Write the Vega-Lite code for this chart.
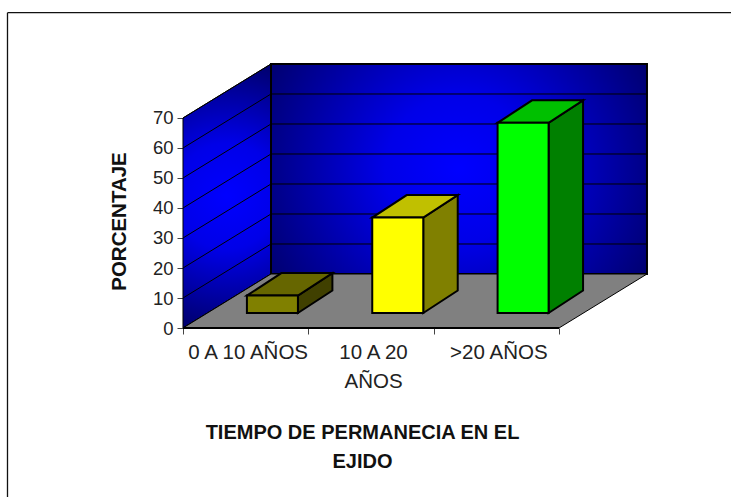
{
"$schema":"https://vega.github.io/schema/vega-lite/v6.json",
"width":731,"height":497,"autosize":{"type":"none"},"padding":0,"background":"white",
"config":{"view":{"stroke":null},"font":"Liberation Sans"},
"datasets":{
"bars":[{"cat":"0 A 10 AÑOS","i":0,"value":5.8,"label":"0 A 10 AÑOS"},{"cat":"10 A 20 AÑOS","i":1,"value":31.8,"label":"10 A 20\nAÑOS"},{"cat":">20 AÑOS","i":2,"value":63.4,"label":">20 AÑOS"}],
"ticks":[{"v":0},{"v":10},{"v":20},{"v":30},{"v":40},{"v":50},{"v":60},{"v":70}]
},
"layer":[
{"data":{"values":[{}]},"mark":{"type":"rule","color":"#111","strokeWidth":1.3},
 "encoding":{"x":{"datum":-1.4003,"type":"quantitative","scale":{"domain":[-1.4601,4.3724],"nice":false,"zero":false},
   "axis":{"orient":"bottom","offset":-169,"values":[0,1,2,3],"labels":false,"domain":false,"grid":false,"tickSize":6,"tickColor":"#444","tickWidth":1,
     "title":["TIEMPO DE PERMANECIA EN EL","EJIDO"],"titleFont":"Liberation Sans","titleFontWeight":"bold","titleFontSize":20,"titleColor":"#111","titleLineHeight":29,"titleX":362,"titleY":94,"titleAlign":"center"}},
  "y":{"datum":105.1,"type":"quantitative","scale":{"domain":[-56.33,109.33],"nice":false,"zero":false},
   "axis":{"orient":"left","offset":-183,"values":[0,10,20,30,40,50,60,70],"domain":false,"grid":false,"tickSize":6,"tickColor":"#444","tickWidth":1,"labelFont":"Liberation Sans","labelFontSize":18.5,"labelColor":"#222","labelPadding":4,"labelOffset":0,
     "title":"PORCENTAJE","titleFont":"Liberation Sans","titleFontWeight":"bold","titleFontSize":20.5,"titleColor":"#111","titleX":-54,"titleY":221,"titleAngle":270}},
  "y2":{"datum":-56.33}}},
{"data":{"values":[{}]},"mark":{"type":"rule","color":"#111","strokeWidth":1.3},
 "encoding":{"x":{"datum":-1.4003,"type":"quantitative"},"x2":{"datum":4.3724},"y":{"datum":105.1,"type":"quantitative"}}},
{"data":{"values":[{"panel":"back"}]},
 "transform":[{"calculate":"[0.702,3.702]","as":"xs"},{"flatten":["xs"]}],
 "mark":{"type":"area","stroke":"black","strokeWidth":2,"color":{"gradient":"radial","x1":0.5,"y1":0.5,"x2":0.5,"y2":0.5,"r1":0,"r2":0.56,"stops":[{"offset":0,"color":"#0000ff"},{"offset":0.35,"color":"#0000e8"},{"offset":1,"color":"#000074"}]}},
 "encoding":{"x":{"field":"xs","type":"quantitative"},"y":{"datum":18,"type":"quantitative"},"y2":{"datum":88}}},
{"data":{"values":[{"panel":"left"}]},
 "transform":[{"calculate":"[0,0.702]","as":"xs"},{"calculate":"[0,18]","as":"lo"},{"calculate":"[70,88]","as":"hi"},{"flatten":["xs","lo","hi"]}],
 "mark":{"type":"area","stroke":"black","strokeWidth":1,"color":{"gradient":"radial","x1":0.5,"y1":0.5,"x2":0.5,"y2":0.5,"r1":0,"r2":0.5,"stops":[{"offset":0,"color":"#0000ff"},{"offset":0.4,"color":"#0000e8"},{"offset":1,"color":"#000074"}]}},
 "encoding":{"x":{"field":"xs","type":"quantitative"},"y":{"field":"lo","type":"quantitative"},"y2":{"field":"hi"}}},
{"data":{"name":"ticks"},"transform":[{"calculate":"datum.v+18","as":"back"}],
 "mark":{"type":"rule","color":"black","strokeWidth":1},
 "encoding":{"x":{"datum":0,"type":"quantitative"},"x2":{"datum":0.702},"y":{"field":"v","type":"quantitative"},"y2":{"field":"back"}}},
{"data":{"name":"ticks"},"transform":[{"calculate":"datum.v+18","as":"back"}],
 "mark":{"type":"rule","color":"black","strokeWidth":1},
 "encoding":{"x":{"datum":0.702,"type":"quantitative"},"x2":{"datum":3.702},"y":{"field":"back","type":"quantitative"}}},
{"data":{"values":[{"panel":"floor"}]},
 "transform":[{"calculate":"[0,0.702,3,3.702]","as":"xs"},{"calculate":"[0,0,0,18]","as":"lo"},{"calculate":"[0,18,18,18]","as":"hi"},{"flatten":["xs","lo","hi"]}],
 "mark":{"type":"area","color":"#808080","stroke":"black","strokeWidth":1},
 "encoding":{"x":{"field":"xs","type":"quantitative"},"y":{"field":"lo","type":"quantitative"},"y2":{"field":"hi"}}},
{"data":{"values":[{}]},"mark":{"type":"rule","color":"black","strokeWidth":2},
 "encoding":{"x":{"datum":0,"type":"quantitative"},"x2":{"datum":3},"y":{"datum":0,"type":"quantitative"}}},
{"data":{"values":[{}]},"mark":{"type":"rule","color":"black","strokeWidth":2},
 "encoding":{"x":{"datum":0.702,"type":"quantitative"},"y":{"datum":18,"type":"quantitative"},"y2":{"datum":88}}},
{"data":{"name":"bars"},
 "transform":[{"calculate":"datum.i+0.51","as":"L"},{"calculate":"datum.L+0.407","as":"R"},{"calculate":"5+datum.value","as":"top"},
  {"calculate":"[datum.R,datum.R+0.275]","as":"xs"},{"calculate":"[5,12.5]","as":"lo"},{"calculate":"[datum.top,datum.top+7.5]","as":"hi"},{"flatten":["xs","lo","hi"]}],
 "mark":{"type":"area","stroke":"black","strokeWidth":2,"strokeJoin":"miter"},
 "encoding":{"x":{"field":"xs","type":"quantitative"},"y":{"field":"lo","type":"quantitative","stack":null},"y2":{"field":"hi"},
  "color":{"field":"cat","type":"nominal","legend":null,"scale":{"domain":["0 A 10 AÑOS","10 A 20 AÑOS",">20 AÑOS"],"range":["#404000","#808000","#008000"]}}}},
{"data":{"name":"bars"},
 "transform":[{"calculate":"datum.i+0.51","as":"L"},{"calculate":"datum.L+0.407","as":"R"},{"calculate":"5+datum.value","as":"top"},
  {"calculate":"[datum.L,datum.L+0.275,datum.R,datum.R+0.275]","as":"xs"},{"calculate":"[datum.top,datum.top,datum.top,datum.top+7.5]","as":"lo"},{"calculate":"[datum.top,datum.top+7.5,datum.top+7.5,datum.top+7.5]","as":"hi"},{"calculate":"datum.cat+' top'","as":"face"},{"flatten":["xs","lo","hi"]}],
 "mark":{"type":"area","stroke":"black","strokeWidth":2,"strokeJoin":"miter"},
 "encoding":{"x":{"field":"xs","type":"quantitative"},"y":{"field":"lo","type":"quantitative","stack":null},"y2":{"field":"hi"},
  "fill":{"field":"face","type":"nominal","legend":null,"scale":{"domain":["0 A 10 AÑOS top","10 A 20 AÑOS top",">20 AÑOS top"],"range":["#666600","#c0c000","#00c000"]}}}},
{"data":{"name":"bars"},
 "transform":[{"calculate":"datum.i+0.51","as":"L"},{"calculate":"datum.L+0.407","as":"R"},{"calculate":"5+datum.value","as":"top"},{"calculate":"5","as":"base"},{"calculate":"datum.cat+' front'","as":"face"}],
 "mark":{"type":"rect","stroke":"black","strokeWidth":2},
 "encoding":{"x":{"field":"L","type":"quantitative"},"x2":{"field":"R"},"y":{"field":"base","type":"quantitative"},"y2":{"field":"top"},
  "stroke":{"value":"black"},
  "fill":{"field":"face","type":"nominal","legend":null,"scale":{"domain":["0 A 10 AÑOS front","10 A 20 AÑOS front",">20 AÑOS front"],"range":["#808000","#ffff00","#00ff00"]}}}},
{"data":{"name":"bars"},
 "transform":[{"calculate":"datum.i+0.52","as":"c"},{"calculate":"-10.2","as":"ly"}],
 "mark":{"type":"text","font":"Liberation Sans","fontSize":20.5,"color":"#222","align":"center","baseline":"alphabetic","lineBreak":"\n","lineHeight":29.5},
 "encoding":{"x":{"field":"c","type":"quantitative"},"y":{"field":"ly","type":"quantitative"},"text":{"field":"label"}}}
],
"resolve":{"scale":{"color":"independent","fill":"independent"}}
}
